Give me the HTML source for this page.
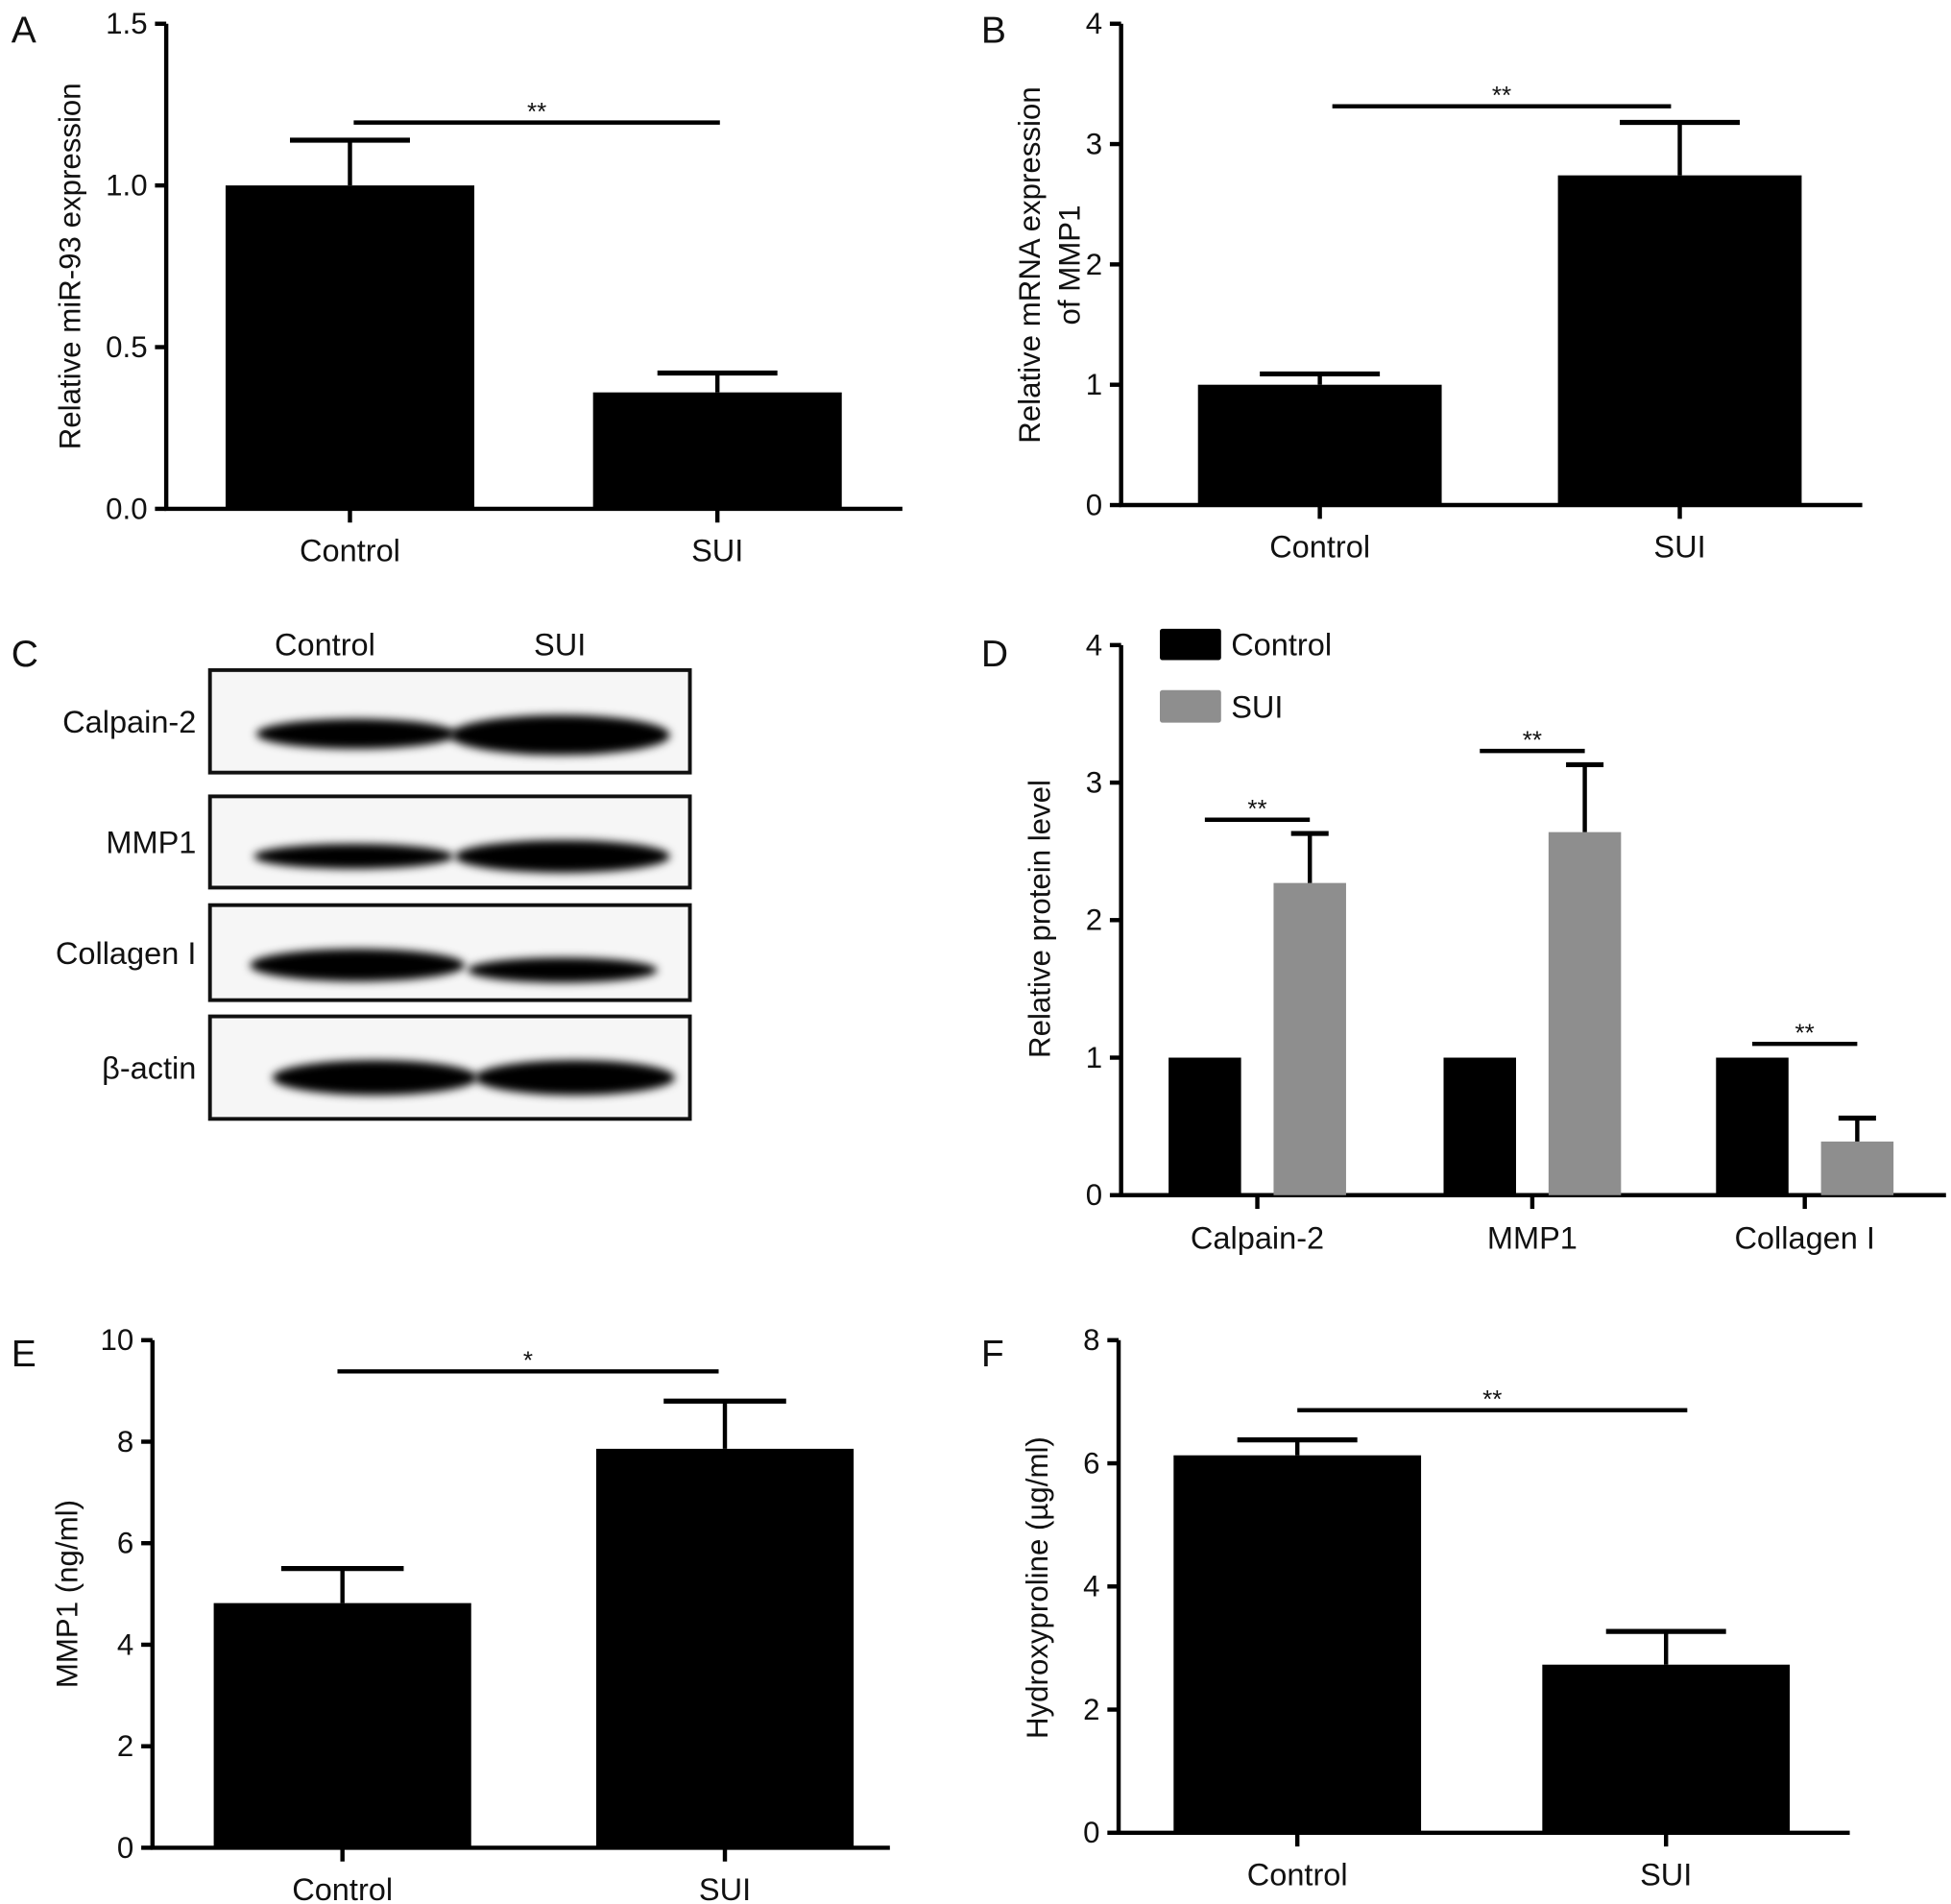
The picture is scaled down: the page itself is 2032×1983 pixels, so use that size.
<!DOCTYPE html>
<html><head><meta charset="utf-8"><style>
html,body{margin:0;padding:0;background:#fff}
svg{display:block}
text{font-family:"Liberation Sans Narrow","Liberation Sans",sans-serif;fill:#111}
</style></head><body>
<svg id="fig" width="2032" height="1983" viewBox="0 0 1561 1523" preserveAspectRatio="none" xmlns="http://www.w3.org/2000/svg">
<defs><filter id="blur" x="-20%" y="-60%" width="140%" height="220%"><feGaussianBlur stdDeviation="3.5"/></filter></defs>
<g id="root"></g>
</svg>
<script>
// Panel A
const catsA = ["Control","SUI"];
const valsA = [1.0, 0.36];
const errA = [0.14, 0.06];
const ticksA = ["0.0","0.5","1.0","1.5"];
// Panel B
const catsB = ["Control","SUI"];
const valsB = [1.0, 2.74];
const errB = [0.09, 0.44];
const ticksB = ["0","1","2","3","4"];
// Panel D
const catsD = ["Calpain-2","MMP1","Collagen I"];
const ctrlD = [1, 1, 1];
const suiD = [2.27, 2.64, 0.39];
const suiErrD = [0.36, 0.49, 0.17];
const ticksD = ["0","1","2","3","4"];
// Panel E
const catsE = ["Control","SUI"];
const valsE = [4.82, 7.86];
const errE = [0.68, 0.94];
const ticksE = ["0","2","4","6","8","10"];
// Panel F
const catsF = ["Control","SUI"];
const valsF = [6.13, 2.73];
const errF = [0.25, 0.54];
const ticksF = ["0","2","4","6","8"];

const NS="http://www.w3.org/2000/svg";
const root=document.getElementById('root');
function el(tag,attrs,parent,txt){const e=document.createElementNS(NS,tag);for(const k in attrs)e.setAttribute(k,attrs[k]);if(txt!==undefined)e.textContent=txt;(parent||root).appendChild(e);return e;}

function axes(g,o){
  const yS=v=>o.y0-(v/o.max)*(o.y0-o.yTop);
  const ax=el('line',{x1:o.x0,y1:o.yTop,x2:o.x0,y2:o.y0+1.5,stroke:'#000','stroke-width':3.4},g);
  
  
  const bx=el('line',{x1:o.x0-1.5,y1:o.y0,x2:o.x1,y2:o.y0,stroke:'#000','stroke-width':3.4},g);
  
  
  o.ticks.forEach(t=>{
    const y=yS(parseFloat(t));
    el('line',{x1:o.x0-9,y1:y,x2:o.x0,y2:y,stroke:'#000','stroke-width':3.4},g);
    const tl=el('text',{x:o.x0-15,y:y+8,'text-anchor':'end','font-size':24},g,t);
    
    
  });
  return yS;
}
function title(g,x,y,lines){
  const t=el('text',{transform:`translate(${x},${y}) rotate(-90)`,'text-anchor':'middle','font-size':24},g);
  
  
  lines.forEach((l,i)=>el('tspan',{x:0,dy:i?32:0},t,l));
}
function label(x,y,s){const t=el('text',{x:x,y:y,'font-size':30,'font-family':'Liberation Sans, sans-serif'},root,s);
  
  }
function errbar(g,cx,yv,ye,hw){
  el('line',{x1:cx,y1:yv,x2:cx,y2:ye,stroke:'#000','stroke-width':3.4},g);
  const c=el('line',{x1:cx-hw,y1:ye,x2:cx+hw,y2:ye,stroke:'#000','stroke-width':4},g);
  
  
}
function sig(g,x1,x2,y,s){
  const l=el('line',{x1:x1,y1:y,x2:x2,y2:y,stroke:'#000','stroke-width':3.4},g);
  
  
  const t=el('text',{x:(x1+x2)/2,y:y-2,'text-anchor':'middle','font-size':20},g,s);
  
  
}
function simple(name,o){
  const g=el('g',{});
  
  
  const yS=axes(g,o);
  o.cats.forEach((c,i)=>{
    const cx=o.centers[i];
    const b=el('rect',{x:cx-o.bw/2,y:yS(o.vals[i]),width:o.bw,height:o.y0-yS(o.vals[i]),fill:'#000'},g);
    
    
    errbar(g,cx,yS(o.vals[i]),yS(o.vals[i]+o.errs[i]),o.cap);
    el('line',{x1:cx,y1:o.y0,x2:cx,y2:o.y0+11,stroke:'#000','stroke-width':3.4},g);
    const t=el('text',{x:cx,y:o.y0+42,'text-anchor':'middle','font-size':25},g,c);
    
    
  });
  title(g,o.tx,o.ty,o.title);
  sig(g,o.sig[0],o.sig[1],o.sig[2],o.sig[3]);
}

simple('panel-a-chart',{x0:133,x1:722,yTop:19,y0:407,max:1.5,ticks:ticksA,cats:catsA,vals:valsA,errs:errA,centers:[280,574],bw:199,cap:48,tx:64,ty:213,title:["Relative miR-93 expression"],sig:[283,576,98,"**"]});
simple('panel-b-chart',{x0:897,x1:1490,yTop:19,y0:404,max:4,ticks:ticksB,cats:catsB,vals:valsB,errs:errB,centers:[1056,1344],bw:195,cap:48,tx:832,ty:212,title:["Relative mRNA expression","of MMP1"],sig:[1066,1337,85,"**"]});
simple('panel-e-chart',{x0:122,x1:712,yTop:1072,y0:1478,max:10,ticks:ticksE,cats:catsE,vals:valsE,errs:errE,centers:[274,580],bw:206,cap:49,tx:62,ty:1275,title:["MMP1 (ng/ml)"],sig:[270,575,1097,"*"]});
simple('panel-f-chart',{x0:895,x1:1480,yTop:1072,y0:1466,max:8,ticks:ticksF,cats:catsF,vals:valsF,errs:errF,centers:[1038,1333],bw:198,cap:48,tx:838,ty:1270,title:["Hydroxyproline (\u00b5g/ml)"],sig:[1038,1350,1128,"**"]});

// Panel D
(function(){
  const g=el('g',{});
  
  
  const o={x0:897,x1:1557,yTop:516,y0:956,max:4,ticks:ticksD};
  const yS=axes(g,o);
  const gc=[1006,1226,1444], off=42, bw=58;
  catsD.forEach((c,i)=>{
    const b1=el('rect',{x:gc[i]-off-bw/2,y:yS(ctrlD[i]),width:bw,height:o.y0-yS(ctrlD[i]),fill:'#000'},g);
    
    
    const b2=el('rect',{x:gc[i]+off-bw/2,y:yS(suiD[i]),width:bw,height:o.y0-yS(suiD[i]),fill:'#8e8e8e'},g);
    
    
    const ye=yS(suiD[i]+suiErrD[i]);
    errbar(g,gc[i]+off,yS(suiD[i]),ye,15);
    sig(g,gc[i]-off,gc[i]+off,Math.min(ye,yS(ctrlD[i]))-11,"**");
    el('line',{x1:gc[i],y1:o.y0,x2:gc[i],y2:o.y0+11,stroke:'#000','stroke-width':3.4},g);
    const t=el('text',{x:gc[i],y:o.y0+43,'text-anchor':'middle','font-size':25},g,c);
    
    
  });
  title(g,840,735,["Relative protein level"]);
  const l1=el('rect',{x:928,y:503,width:49,height:25,fill:'#000',rx:2},g);
  
  
  const t1=el('text',{x:985,y:524,'font-size':25},g,"Control");
  
  
  const l2=el('rect',{x:928,y:552,width:49,height:26,fill:'#8e8e8e',rx:2},g);
  
  
  const t2=el('text',{x:985,y:574,'font-size':25},g,"SUI");
  
  
})();

// Panel C western blot
(function(){
  const g=el('g',{});
  
  
  const h1=el('text',{x:260,y:524,'text-anchor':'middle','font-size':25},g,"Control");
  
  
  const h2=el('text',{x:448,y:524,'text-anchor':'middle','font-size':25},g,"SUI");
  
  
  const rows=[
    {n:"Calpain-2",y0:536,y1:618,b:[[285,80,12,587],[448,88,16,588]]},
    {n:"MMP1",y0:637,y1:710,b:[[283,80,10,685],[450,86,13,685]]},
    {n:"Collagen I",y0:724,y1:800,b:[[286,86,13,772],[450,76,10,776]]},
    {n:"\u03b2-actin",y0:813,y1:895,b:[[300,82,14,862],[460,80,14,862]]}
  ];
  rows.forEach(r=>{
    const box=el('rect',{x:168,y:r.y0,width:384,height:r.y1-r.y0,fill:'#f6f6f6',stroke:'#111','stroke-width':3},g);
    
    
    r.b.forEach(b=>{
      const e=el('ellipse',{cx:b[0],cy:b[3],rx:b[1],ry:b[2],fill:'#000',filter:'url(#blur)'},g);
      
      
    });
    const t=el('text',{x:157,y:(r.y0+r.y1)/2+9,'text-anchor':'end','font-size':25},g,r.n);
    
    
  });
})();

label(9,34,"A");label(785,34,"B");label(9,533,"C");label(785,533,"D");label(9,1093,"E");label(785,1093,"F");
</script>
</body></html>
